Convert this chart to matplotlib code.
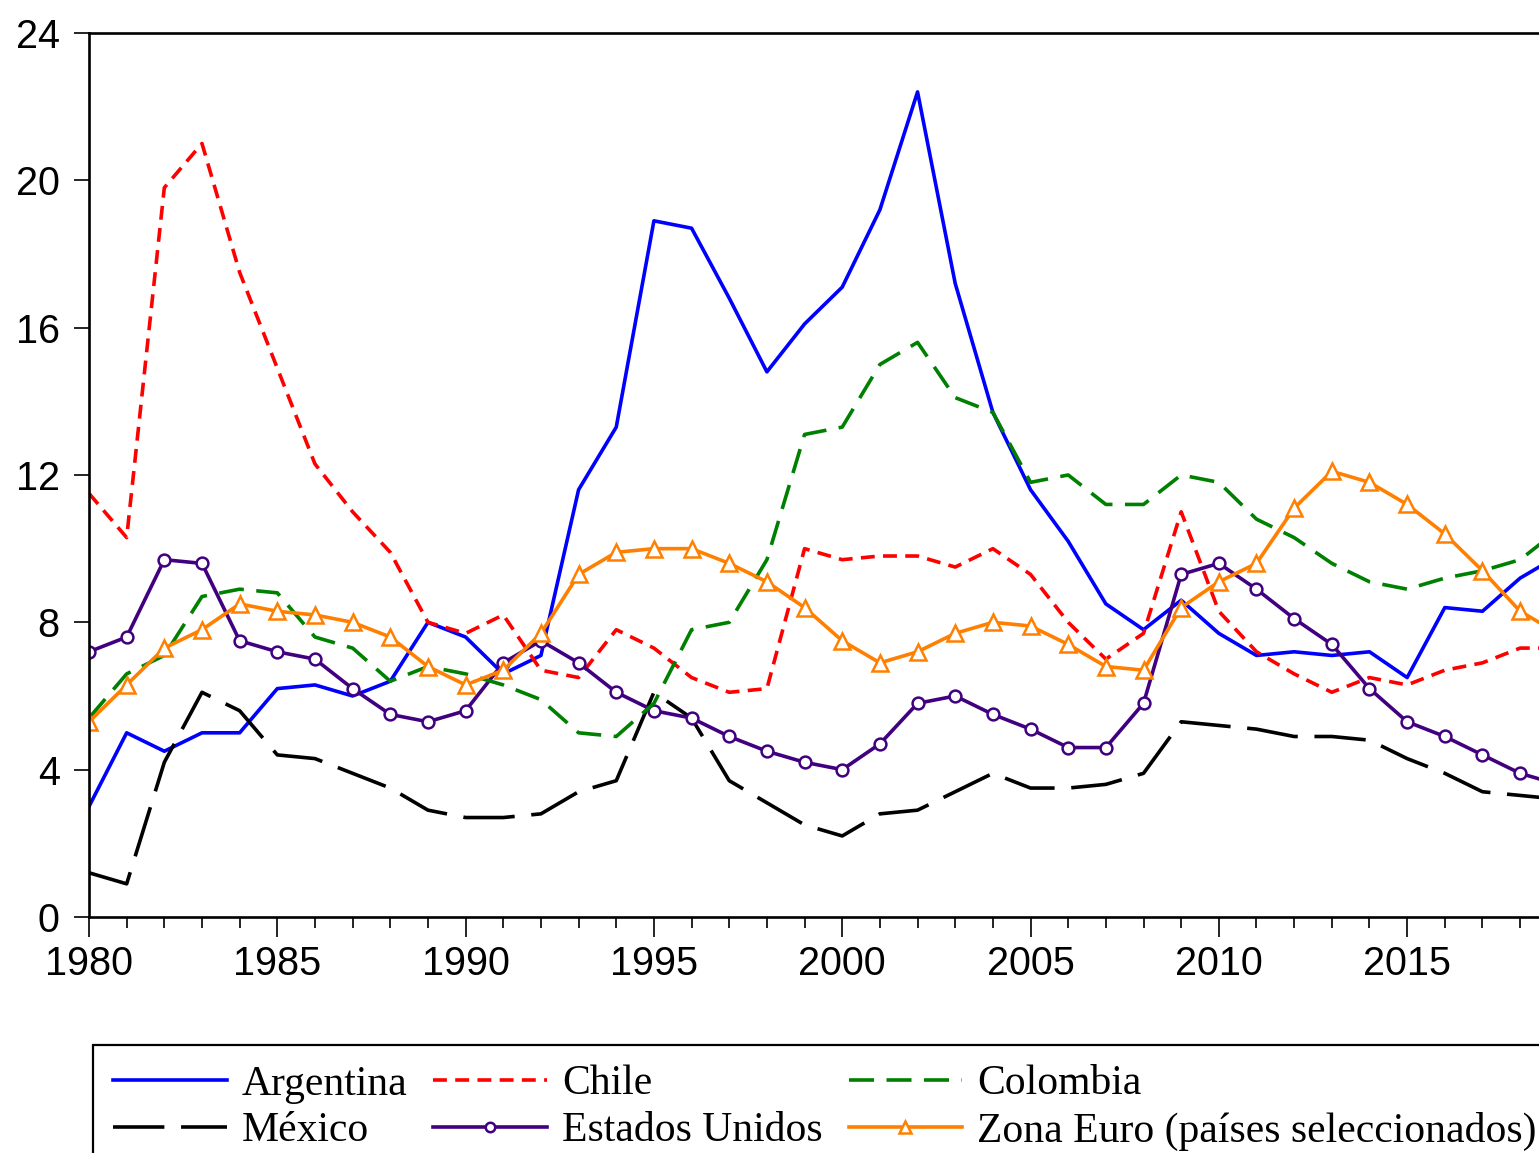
import matplotlib
matplotlib.use("Agg")
import matplotlib.pyplot as plt
from matplotlib.ticker import MultipleLocator

plt.rcParams["lines.scale_dashes"] = False

years = list(range(1980, 2020))

argentina = [3.0, 5.0, 4.5, 5.0, 5.0, 6.2, 6.3, 6.0, 6.4, 8.0, 7.6, 6.6, 7.1, 11.6, 13.3,
             18.9, 18.7, 16.8, 14.8, 16.1, 17.1, 19.2, 22.4, 17.2, 13.7, 11.6, 10.2, 8.5,
             7.8, 8.6, 7.7, 7.1, 7.2, 7.1, 7.2, 6.5, 8.4, 8.3, 9.2, 9.8]
chile = [11.5, 10.3, 19.8, 21.0, 17.5, 14.9, 12.3, 11.0, 9.9, 8.0, 7.7, 8.2, 6.7, 6.5, 7.8,
         7.3, 6.5, 6.1, 6.2, 10.0, 9.7, 9.8, 9.8, 9.5, 10.0, 9.3, 8.0, 7.0, 7.7, 11.0,
         8.3, 7.2, 6.6, 6.1, 6.5, 6.3, 6.7, 6.9, 7.3, 7.3]
colombia = [5.4, 6.6, 7.1, 8.7, 8.9, 8.8, 7.6, 7.3, 6.4, 6.8, 6.6, 6.3, 5.9, 5.0, 4.9,
            5.8, 7.8, 8.0, 9.7, 13.1, 13.3, 15.0, 15.6, 14.1, 13.7, 11.8, 12.0, 11.2, 11.2,
            12.0, 11.8, 10.8, 10.3, 9.6, 9.1, 8.9, 9.2, 9.4, 9.7, 10.5]
mexico = [1.2, 0.9, 4.2, 6.1, 5.6, 4.4, 4.3, 3.9, 3.5, 2.9, 2.7, 2.7, 2.8, 3.4, 3.7,
          6.1, 5.4, 3.7, 3.1, 2.5, 2.2, 2.8, 2.9, 3.4, 3.9, 3.5, 3.5, 3.6, 3.9, 5.3,
          5.2, 5.1, 4.9, 4.9, 4.8, 4.3, 3.9, 3.4, 3.3, 3.2]
eeuu = [7.2, 7.6, 9.7, 9.6, 7.5, 7.2, 7.0, 6.2, 5.5, 5.3, 5.6, 6.9, 7.5, 6.9, 6.1,
        5.6, 5.4, 4.9, 4.5, 4.2, 4.0, 4.7, 5.8, 6.0, 5.5, 5.1, 4.6, 4.6, 5.8, 9.3,
        9.6, 8.9, 8.1, 7.4, 6.2, 5.3, 4.9, 4.4, 3.9, 3.6]
zona_euro = [5.3, 6.3, 7.3, 7.8, 8.5, 8.3, 8.2, 8.0, 7.6, 6.8, 6.3, 6.7, 7.7, 9.3, 9.9,
             10.0, 10.0, 9.6, 9.1, 8.4, 7.5, 6.9, 7.2, 7.7, 8.0, 7.9, 7.4, 6.8, 6.7, 8.4,
             9.1, 9.6, 11.1, 12.1, 11.8, 11.2, 10.4, 9.4, 8.3, 7.7]

fig = plt.figure(figsize=(15.39, 11.53), dpi=100)
fig.patch.set_facecolor("white")
ax = fig.add_axes([0.05783, 0.2047, 0.9461, 0.7667])

lw = 2.6
ax.plot(years, argentina, color="#0000FF", lw=lw, label="Argentina")
ax.plot(years, mexico, color="black", lw=lw, dashes=(37, 12), label="México")
ax.plot(years, chile, color="#FF0000", lw=lw, dashes=(10, 6), label="Chile")
ax.plot(years, eeuu, color="#400080", lw=lw, marker="o", markersize=8.5,
        markerfacecolor="white", markeredgewidth=1.8, label="Estados Unidos")
ax.plot(years, colombia, color="#008000", lw=lw, dashes=(18, 9), label="Colombia")
ax.plot(years, zona_euro, color="#FF8000", lw=lw, marker="^", markersize=11,
        markerfacecolor="white", markeredgewidth=1.8,
        label="Zona Euro (países seleccionados)")

ax.set_xlim(1980, 1980 + (1545 - 89) / 37.66)
ax.set_ylim(0, 24)
ax.xaxis.set_major_locator(MultipleLocator(5))
ax.xaxis.set_minor_locator(MultipleLocator(1))
ax.yaxis.set_major_locator(MultipleLocator(4))

for side in ax.spines.values():
    side.set_linewidth(1.9)
    side.set_color("black")

ax.tick_params(axis="x", which="major", direction="out", length=14.5, width=1.2,
               pad=6, labelsize=28.5)
ax.tick_params(axis="x", which="minor", direction="out", length=8, width=1.2)
ax.tick_params(axis="y", which="major", direction="out", length=11, width=1.2,
               pad=10, labelsize=28.5)
for lab in ax.get_xticklabels() + ax.get_yticklabels():
    lab.set_fontfamily("Liberation Sans")

leg = fig.legend(loc="upper left", bbox_to_anchor=(93 / 1539, 1 - 1045 / 1153),
                 ncol=3, frameon=True, fancybox=False, borderaxespad=0,
                 prop={"family": "Liberation Serif", "size": 30},
                 handlelength=2.73, handletextpad=0.36, columnspacing=0.62,
                 labelspacing=0.2, borderpad=0.48, numpoints=1, markerscale=0.8)
leg.get_frame().set_edgecolor("black")
leg.get_frame().set_linewidth(1.6)
leg.get_frame().set_alpha(1)

fig.savefig("out.png", dpi=100)
